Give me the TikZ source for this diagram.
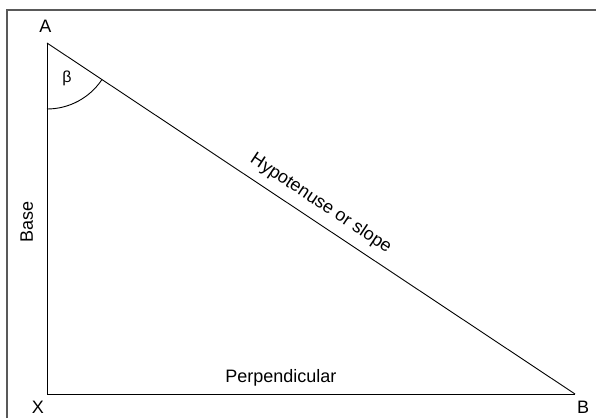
\documentclass[tikz,border=0pt]{standalone}
\usepackage{fontspec}
\setmainfont{Liberation Sans}
\usetikzlibrary{positioning}
\tikzset{
    sidelabel/.style={sloped, above},
    cornerlabel/.style={inner sep=3.33pt}
}
\begin{document}
\begin{tikzpicture}[x=1pt, y=1pt, line width=0.9pt, every node/.style={font=\fontsize{18}{22}\selectfont}]
    \useasboundingbox (0,0) rectangle (596,418);
    % frame, cut off at the right and at the bottom
    \coordinate (frameL) at (7,0);
    \coordinate (frameC) at (7,408);
    \coordinate (frameR) at (596,408);
    \draw[black!65, line width=1.4pt] (frameL) -- (frameC) -- (frameR);
    % triangle
    \coordinate (A) at (47,375);
    \coordinate (X) at (47,24);
    \coordinate (B) at (575,24);
    \draw (X) -- node[sidelabel, pos=0.49, outer sep=10.5pt] (base) {Base} (A);
    \draw (A) -- node[sidelabel, pos=0.5, outer sep=6pt] (hyp) {Hypotenuse or slope} (B);
    \draw (X) -- node[sidelabel, pos=0.443, outer sep=4pt] (perp) {Perpendicular} (B);
    \node[cornerlabel, above=6.5pt of A, xshift=-1.5pt] (labA) {A};
    \node[cornerlabel, below=3pt of X, xshift=-9pt] (labX) {X};
    \node[cornerlabel, below=3pt of B, xshift=8pt] (labB) {B};
    % angle at A
    \draw ([yshift=-66pt]A) arc[start angle=-90, end angle=-33.6, radius=66pt];
    \node[font=\fontsize{16}{19}\selectfont] (beta) at ([shift={(20,-35)}]A) {β};
\end{tikzpicture}
\end{document}
